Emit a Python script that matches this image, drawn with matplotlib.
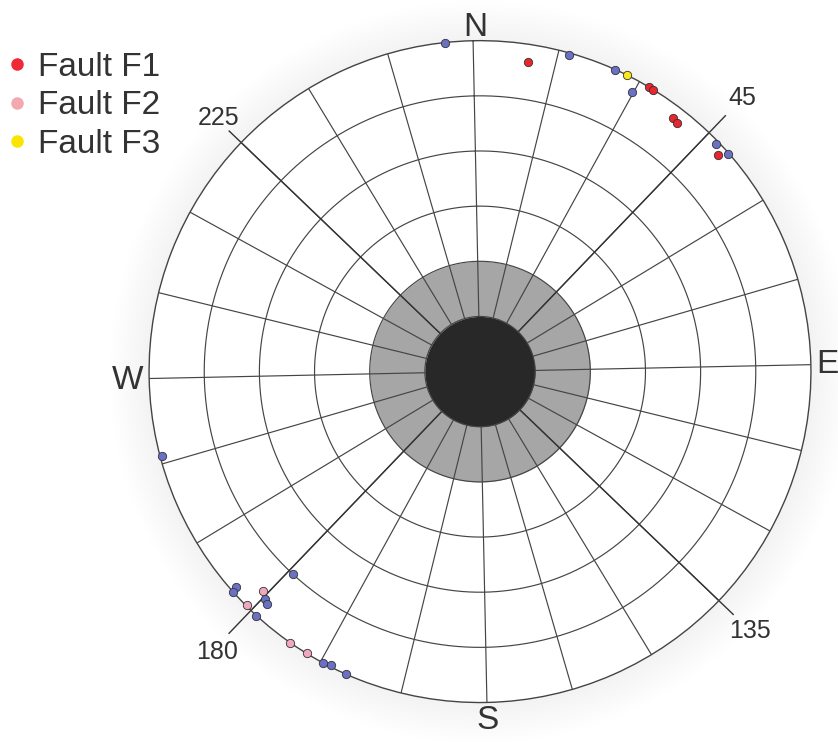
import numpy as np
import matplotlib.pyplot as plt
from matplotlib.lines import Line2D

plt.rcParams['font.family'] = ['Liberation Sans', 'DejaVu Sans']

# poles: azimuth (deg clockwise from N) and dip (deg, rim = 90)
other_az = [355.1, 16.9, 25.3, 29.7, 47.2, 49.9, 229.8, 229.4, 224.6, 223.7,
            223.9, 223.7, 209.6, 208.1, 205.0, 256.3]
other_dip = [90, 89.4, 90, 86.5, 89.1, 89.7, 88.5, 90, 85.1, 85.8,
             75, 90, 90, 89.6, 90, 89.5]
f1_az = [10.0, 31.9, 32.8, 38.5, 39.6, 48.9]
f1_dip = [85.1, 90, 89.8, 86.7, 86.2, 87.5]
f2_az = [225.9, 226.1, 216.2, 212.8]
f2_dip = [84, 89.7, 90, 90]
f3_az = [27.5]
f3_dip = [90]

ring_dips = [15, 30, 45, 60, 75, 90]
spoke_step = 15
diag_labels = ['45', '135', '180', '225']

fig = plt.figure(figsize=(8.38, 7.42), dpi=100)
ax = fig.add_axes([0.1778, 0.0532, 0.790, 0.892], projection='polar')
ax.set_theta_zero_location('N')
ax.set_theta_direction(-1)
ax.set_theta_offset(np.pi / 2 + np.radians(1.2))
ax.set_ylim(0, 90)
ax.grid(False)
ax.set_xticks([])
ax.set_yticks([])
ax.spines['polar'].set_color('#444444')
ax.spines['polar'].set_linewidth(1.0)
ax.patch.set_alpha(0)

t = np.linspace(0, 2 * np.pi, 400)

# very faint halo round the net
for i in range(12):
    ax.fill_between(t, 90, 90 + (i + 1) * 0.9, color='#909090', alpha=0.005,
                    lw=0, clip_on=False, zorder=0)
ax.fill_between(t, 0, 90, color='white', lw=0, zorder=0.5)

# grey ring and black centre
ax.fill_between(t, 15, 30, color='#a6a6a6', lw=0, zorder=1)
ax.fill_between(t, 0, 15, color='#282828', lw=0, zorder=3)

gc = '#454545'
for r in ring_dips[1:-1]:
    ax.plot(t, np.full_like(t, r), color=gc, lw=0.85, zorder=2)
ax.plot(t, np.full_like(t, 15), color=gc, lw=0.85, zorder=3.5)
for a in range(0, 360, spoke_step):
    ax.plot([np.radians(a)] * 2, [15, 90], color=gc, lw=0.85, zorder=2)

# diagonal reference lines
dc = '#333333'
ax.plot([np.radians(45)] * 2, [0, 96.4], color=dc, lw=1.0, zorder=2.5, clip_on=False)
ax.plot([np.radians(225)] * 2, [0, 98.6], color=dc, lw=1.0, zorder=2.5, clip_on=False)
ax.plot([np.radians(315)] * 2, [0, 94.5], color=dc, lw=1.0, zorder=2.5, clip_on=False)
ax.plot([np.radians(135)] * 2, [0, 95.4], color=dc, lw=1.0, zorder=2.5, clip_on=False)

tc = '#333333'
ax.text(np.radians(45), 103, diag_labels[0], fontsize=18, color=tc,
        ha='center', va='center', clip_on=False)
ax.text(np.radians(135.1), 101.8, diag_labels[1], fontsize=18, color=tc,
        ha='center', va='center', clip_on=False)
ax.text(np.radians(224.4), 104.5, diag_labels[2], fontsize=18, color=tc,
        ha='center', va='center', clip_on=False)
ax.text(np.radians(315.3), 99.1, diag_labels[3], fontsize=18, color=tc,
        ha='center', va='center', clip_on=False)

for lab, a, r in [('N', 0.5, 93.7), ('S', 180, 94.8), ('W', 269.8, 96)]:
    ax.text(np.radians(a), r, lab, fontsize=24, color=tc,
            ha='center', va='center', clip_on=False)
ax.text(np.radians(90), 91.4, 'E', fontsize=24, color=tc,
        ha='left', va='center', clip_on=False)

# poles
ms = 6
ax.plot(np.radians(other_az), other_dip, 'o', ms=ms, color='#6a70c4',
        mec='#333333', mew=0.6, zorder=5, clip_on=False)
ax.plot(np.radians(f1_az), f1_dip, 'o', ms=ms, color='#e8262e',
        mec='#333333', mew=0.6, zorder=5, clip_on=False)
ax.plot(np.radians(f2_az), f2_dip, 'o', ms=ms, color='#f0a8bc',
        mec='#333333', mew=0.6, zorder=5, clip_on=False)
ax.plot(np.radians(f3_az), f3_dip, 'o', ms=ms, color='#f8e81c',
        mec='#333333', mew=0.6, zorder=5, clip_on=False)

handles = [Line2D([], [], ls='', marker='o', ms=8, color='#ee2a35'),
           Line2D([], [], ls='', marker='o', ms=8, color='#f4a9ae'),
           Line2D([], [], ls='', marker='o', ms=8, color='#f9e500')]
leg = fig.legend(handles, ['Fault F1', 'Fault F2', 'Fault F3'], loc='upper left',
                 bbox_to_anchor=(0.0, 0.939), frameon=False, fontsize=24,
                 handlelength=0.6, handletextpad=0.35, labelspacing=0.22,
                 borderpad=0.2, borderaxespad=0.0)
for txt in leg.get_texts():
    txt.set_color(tc)

fig.savefig('out.png', dpi=100)
